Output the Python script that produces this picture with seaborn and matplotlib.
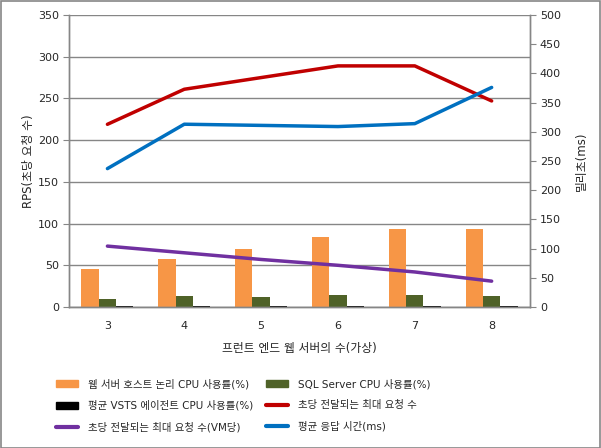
import numpy as np
import pandas as pd
import matplotlib
matplotlib.use("Agg")
import matplotlib.pyplot as plt
import seaborn as sns
from matplotlib.patches import Rectangle

# data
servers = ["3", "4", "5", "6", "7", "8"]
web_cpu = [45, 58, 69, 84, 93, 93]
sql_cpu = [10, 13, 12, 14, 14, 13]
vsts_cpu = [1.5, 1.5, 1.5, 1.5, 1.5, 1.5]
max_rps = [219, 261, 275, 289, 289, 247]
rps_per_vm = [73, 65, 57, 50, 42, 31]
resp_ms = [237, 313, 311, 309, 314, 376]

bar_names = ["웹 서버 호스트 논리 CPU 사용률(%)", "SQL Server CPU 사용률(%)",
             "평균 VSTS 에이전트 CPU 사용률(%)"]
line_names = ["초당 전달되는 최대 요청 수", "초당 전달되는 최대 요청 수(VM당)",
              "평균 응답 시간(ms)"]
bar_colors = ["#F79646", "#4F6228", "#000000"]
line_colors = ["#C00000", "#7030A0", "#0070C0"]

sns.set_style("white")
plt.rcParams['font.family'] = ['DejaVu Sans', 'Noto Sans CJK KR']
plt.rcParams['axes.unicode_minus'] = False

bars = pd.DataFrame({
    "servers": servers * 3,
    "value": web_cpu + sql_cpu + vsts_cpu,
    "series": [bar_names[0]] * 6 + [bar_names[1]] * 6 + [bar_names[2]] * 6,
})

fig = plt.figure(figsize=(6.01, 4.48), dpi=100)
ax = fig.add_axes([0.1148, 0.3147, 0.7672, 0.6518])
ax2 = ax.twinx()

grid_c = "#868686"
for v in range(0, 351, 50):
    ax.axhline(v, color=grid_c, lw=1, zorder=0)

sns.barplot(data=bars, x="servers", y="value", hue="series", order=servers,
            hue_order=bar_names, palette=bar_colors, width=0.675, ax=ax,
            saturation=1, legend=False, linewidth=0, zorder=2)

xpos = np.arange(len(servers))
sns.lineplot(x=xpos, y=max_rps, color=line_colors[0], lw=2.5, ax=ax, zorder=3)
sns.lineplot(x=xpos, y=rps_per_vm, color=line_colors[1], lw=2.5, ax=ax, zorder=3)
sns.lineplot(x=xpos, y=resp_ms, color=line_colors[2], lw=2.5, ax=ax2, zorder=3)

ax.set_xlim(-0.5, len(servers) - 0.5)
ax.set_ylim(0, 350)
ax.set_yticks(range(0, 351, 50))
ax2.set_ylim(0, 500)
ax2.set_yticks(range(0, 501, 50))

ax.set_xticks(xpos)
ax.set_xticklabels(servers)
ax.set_xticks(np.arange(-0.5, len(servers)), minor=True)
ax.tick_params(axis="x", which="major", length=0, pad=10, labelsize=8)
ax.tick_params(axis="x", which="minor", length=5, color=grid_c, direction="out")
ax.tick_params(axis="y", length=4, color=grid_c, labelsize=8, pad=3, direction="out", left=True)
ax2.tick_params(axis="y", length=4, color=grid_c, labelsize=8, pad=3, direction="out", right=True)

for a in (ax, ax2):
    a.spines["top"].set_visible(False)
    for s in ["left", "right", "bottom"]:
        a.spines[s].set_color(grid_c)
        a.spines[s].set_linewidth(1)

ax.set_xlabel("프런트 엔드 웹 서버의 수(가상)", fontsize=8.5, labelpad=8)
ax.set_ylabel("RPS(초당 요청 수)", fontsize=8.5, labelpad=2)
ax2.set_ylabel("밀리초(ms)", fontsize=8.5, labelpad=10)

# legend: row-major order in 2 columns
h_bars = [Rectangle((0, 0), 1, 1, color=c) for c in bar_colors]
h_lines = [plt.Line2D([0], [0], color=c, lw=3) for c in line_colors]
handles = [h_bars[0], h_bars[2], h_lines[1], h_bars[1], h_lines[0], h_lines[2]]
labels = [bar_names[0], bar_names[2], line_names[1], bar_names[1], line_names[0], line_names[2]]
fig.legend(handles, labels, ncol=2, loc="upper left", bbox_to_anchor=(0.078, 0.175),
           frameon=False, fontsize=7.5, handlelength=2.1, handleheight=0.7,
           columnspacing=1.3, labelspacing=1.05, handletextpad=0.9)

fig.patches.append(Rectangle((0.001, 0.001), 0.997, 0.997, transform=fig.transFigure,
                             fill=False, edgecolor="#868686", lw=1.2))

fig.savefig("out.png", dpi=100)
